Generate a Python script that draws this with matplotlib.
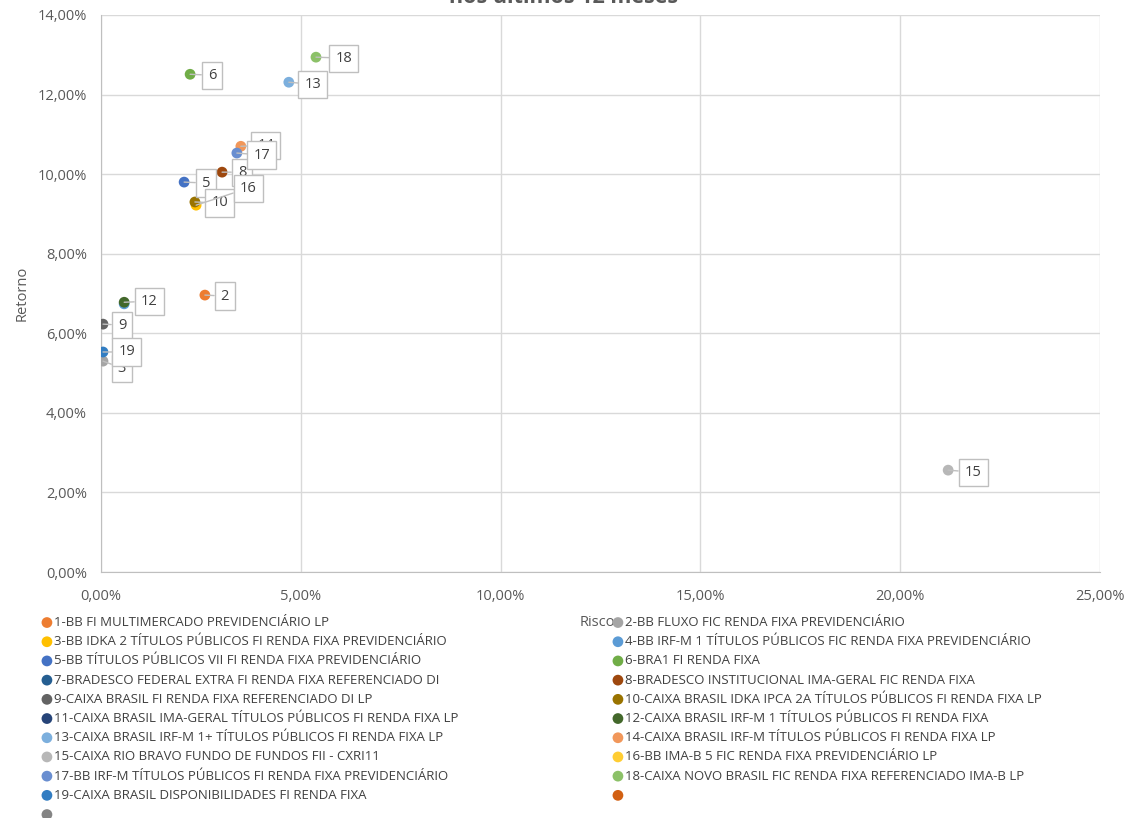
import numpy as np
import matplotlib
matplotlib.use("Agg")
import matplotlib.pyplot as plt
import matplotlib.ticker as ticker

plt.rcParams['font.family'] = ['Open Sans', 'DejaVu Sans']

# --- Dados ---
fundos = [
    "1-BB FI MULTIMERCADO PREVIDENCIÁRIO LP",
    "2-BB FLUXO FIC RENDA FIXA PREVIDENCIÁRIO",
    "3-BB IDKA 2 TÍTULOS PÚBLICOS FI RENDA FIXA PREVIDENCIÁRIO",
    "4-BB IRF-M 1 TÍTULOS PÚBLICOS FIC RENDA FIXA PREVIDENCIÁRIO",
    "5-BB TÍTULOS PÚBLICOS VII FI RENDA FIXA PREVIDENCIÁRIO",
    "6-BRA1 FI RENDA FIXA",
    "7-BRADESCO FEDERAL EXTRA FI RENDA FIXA REFERENCIADO DI",
    "8-BRADESCO INSTITUCIONAL IMA-GERAL FIC RENDA FIXA",
    "9-CAIXA BRASIL FI RENDA FIXA REFERENCIADO DI LP",
    "10-CAIXA BRASIL IDKA IPCA 2A TÍTULOS PÚBLICOS FI RENDA FIXA LP",
    "11-CAIXA BRASIL IMA-GERAL TÍTULOS PÚBLICOS FI RENDA FIXA LP",
    "12-CAIXA BRASIL IRF-M 1 TÍTULOS PÚBLICOS FI RENDA FIXA",
    "13-CAIXA BRASIL IRF-M 1+ TÍTULOS PÚBLICOS FI RENDA FIXA LP",
    "14-CAIXA BRASIL IRF-M TÍTULOS PÚBLICOS FI RENDA FIXA LP",
    "15-CAIXA RIO BRAVO FUNDO DE FUNDOS FII - CXRI11",
    "16-BB IMA-B 5 FIC RENDA FIXA PREVIDENCIÁRIO LP",
    "17-BB IRF-M TÍTULOS PÚBLICOS FI RENDA FIXA PREVIDENCIÁRIO",
    "18-CAIXA NOVO BRASIL FIC RENDA FIXA REFERENCIADO IMA-B LP",
    "19-CAIXA BRASIL DISPONIBILIDADES FI RENDA FIXA",
    " ",
    " ",
]

cores = [
    "#ED7D31", "#A5A5A5", "#FFC000", "#5B9BD5", "#4472C4", "#70AD47",
    "#255E91", "#9E480E", "#636363", "#997300", "#264478", "#43682B",
    "#7CAFDD", "#F1975A", "#B7B7B7", "#FFCD33", "#698ED0", "#8CC168",
    "#327DC2", "#D26012", "#848484",
]

nan = np.nan
# risco e retorno em %
risco = [2.60, 0.05, 2.38, 0.58, 2.08, 2.23, nan, 3.03, 0.05, 2.35, nan,
         0.58, 4.70, 3.50, 21.20, nan, 3.40, 5.38, 0.05, nan, nan]
retorno = [6.96, 5.30, 9.22, 6.74, 9.80, 12.51, nan, 10.05, 6.23, 9.30, nan,
           6.78, 12.31, 10.70, 2.56, nan, 10.53, 12.94, 5.53, nan, nan]

# rótulos de dados como aparecem no gráfico
rotulos = ["2", "3", "16", "", "5", "6", "", "8", "9", "10", "",
           "12", "13", "14", "15", "", "17", "18", "19", "", ""]
# deslocamento do rótulo (pixels: direita, baixo)
desloc = [(20, 1), (19, 7), (52, -17), (0, 0), (22, 1), (22, 1), (0, 0),
          (20, 0), (19, 1), (25, 1), (0, 0), (25, -1), (24, 2), (25, -1),
          (25, 2), (0, 0), (25, 2), (28, 1), (24, 0), (0, 0), (0, 0)]

W, H = 1127, 818
fig = plt.figure(figsize=(W / 100, H / 100), dpi=100)
ax = fig.add_axes([101 / W, 1 - 572 / H, 999 / W, 557 / H])

handles = []
for i, nome in enumerate(fundos):
    h = ax.scatter([risco[i]], [retorno[i]], s=60, color=cores[i],
                   edgecolor='none', zorder=3 + i * 0.01, label=nome)
    handles.append(h)

# rótulos de dados (caixas), na ordem em que se sobrepõem
ordem = [0, 1, 4, 5, 7, 8, 9, 2, 11, 12, 13, 14, 16, 17, 18]
for k, i in enumerate(ordem):
    if not rotulos[i] or np.isnan(risco[i]):
        continue
    dx, dy = desloc[i]
    ax.annotate(rotulos[i], (risco[i], retorno[i]),
                xytext=(dx * 0.72, -dy * 0.72), textcoords='offset points',
                ha='center', va='center', fontsize=10.5, color='#404040',
                bbox=dict(boxstyle='square,pad=0.42', fc='white', ec='#BFBFBF', lw=1),
                arrowprops=dict(arrowstyle='-', color='#BFBFBF', lw=1,
                                shrinkA=0, shrinkB=0),
                zorder=10 + k * 0.01)

ax.set_xlim(0, 25)
ax.set_ylim(0, 14)
ax.xaxis.set_major_locator(ticker.MultipleLocator(5))
ax.yaxis.set_major_locator(ticker.MultipleLocator(2))
fmt = ticker.FuncFormatter(lambda v, _: f"{v:.2f}%".replace('.', ','))
ax.xaxis.set_major_formatter(fmt)
ax.yaxis.set_major_formatter(fmt)
ax.tick_params(length=0, labelsize=10.5, labelcolor='#595959')
ax.tick_params(axis='x', pad=12)
ax.tick_params(axis='y', pad=10)
ax.grid(True, color='#D9D9D9', lw=1)
ax.set_axisbelow(True)
for lado in ['top', 'right']:
    ax.spines[lado].set_visible(False)
for lado in ['left', 'bottom']:
    ax.spines[lado].set_color('#BFBFBF')

ax.set_ylabel("Retorno", fontsize=10.5, color='#595959', labelpad=6)

fig.text(0.5, 1 - 3 / H, "nos últimos 12 meses", ha='center', va='baseline',
         fontsize=15.5, fontweight='bold', color='#595959')

fig.text(580 / W, 1 - 622 / H, "Risco", ha='left', va='center',
         fontsize=10.5, color='#595959')

# legenda em duas colunas
leg_kw = dict(frameon=False, fontsize=9.5, labelcolor='#404040',
              handletextpad=0.1, borderaxespad=0, borderpad=0,
              labelspacing=0.47, markerscale=1.0, handlelength=0.9,
              loc='upper left')
leg1 = fig.legend(handles[0::2], fundos[0::2],
                  bbox_to_anchor=(41 / W, 1 - 616 / H), **leg_kw)
leg2 = fig.legend(handles[1::2], fundos[1::2],
                  bbox_to_anchor=(612 / W, 1 - 616 / H), **leg_kw)

fig.savefig("out.png", dpi=100)
